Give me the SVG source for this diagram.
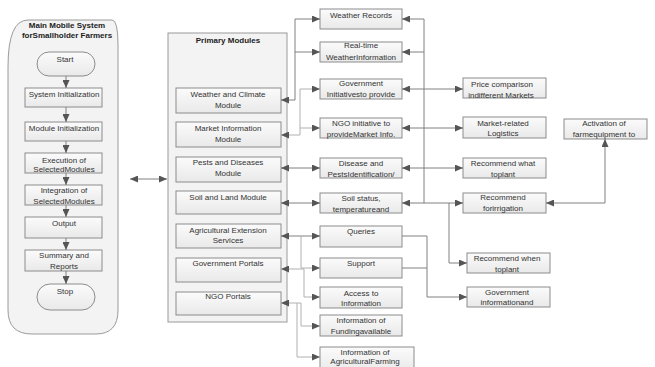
<svg xmlns="http://www.w3.org/2000/svg" width="655" height="367" viewBox="0 0 655 367">
<defs>
<linearGradient id="bg" x1="0" y1="0" x2="0" y2="1">
<stop offset="0" stop-color="#fbfbfb"/>
<stop offset="1" stop-color="#e9e9e9"/>
</linearGradient>
<marker id="ah" viewBox="0 0 8 7" refX="8" refY="3.5" markerWidth="8" markerHeight="7" markerUnits="userSpaceOnUse" orient="auto-start-reverse">
<path d="M0,0 L8,3.5 L0,7 z" fill="#555"/>
</marker>
</defs>
<style>
text{font-family:"Liberation Sans",Arial,sans-serif;font-size:8px;fill:#333;text-anchor:middle}
.t{font-weight:bold;fill:#222}
.box{fill:url(#bg);stroke:#8c8c8c;stroke-width:1}
.cont{fill:#f3f3f3;stroke:#9a9a9a;stroke-width:1}
.c{fill:none;stroke:#808080;stroke-width:1}
.l{stroke:#b0b0b0}
.b{marker-start:url(#ah);marker-end:url(#ah)}
.e{marker-end:url(#ah)}
</style>
<g id="main-system">
<path class="cont" d="M28,20 L112,20 Q118,20 118,45 L118,310 Q118,334 96,334 L32,334 Q8,334 8,310 L8,67 Q8,20 28,20 Z"/>
<text class="t" x="67" y="28">Main Mobile System</text>
<text class="t" x="67" y="38">forSmallholder Farmers</text>
</g>
<g id="start"><rect class="box" x="37" y="52" width="58" height="24" rx="12"/><text x="65" y="62">Start</text></g>
<g id="system-init"><rect class="box" x="25" y="88" width="77" height="19"/><text x="64" y="97">System Initialization</text></g>
<g id="module-init"><rect class="box" x="25" y="122" width="77" height="19"/><text x="64" y="131">Module Initialization</text></g>
<g id="execution"><rect class="box" x="25" y="153" width="77" height="20"/><text x="64" y="163">Execution of</text><text x="64" y="172">SelectedModules</text></g>
<g id="integration"><rect class="box" x="25" y="185" width="77" height="20"/><text x="64" y="193">Integration of</text><text x="64" y="204">SelectedModules</text></g>
<g id="output"><rect class="box" x="25" y="217" width="77" height="21"/><text x="64" y="226">Output</text></g>
<g id="summary"><rect class="box" x="25" y="250" width="77" height="21"/><text x="64" y="258">Summary and</text><text x="64" y="269">Reports</text></g>
<g id="stop"><rect class="box" x="37" y="284" width="58" height="26" rx="13"/><text x="65" y="294">Stop</text></g>

<g id="primary-modules">
<rect class="cont" x="168" y="33" width="119" height="289"/>
<text class="t" x="228" y="43">Primary Modules</text>
</g>
<g id="weather-module"><rect class="box" x="176" y="88" width="105" height="25"/><text x="228" y="97">Weather and Climate</text><text x="228" y="108">Module</text></g>
<g id="market-module"><rect class="box" x="176" y="122" width="105" height="25"/><text x="228" y="131">Market Information</text><text x="228" y="142">Module</text></g>
<g id="pests-module"><rect class="box" x="176" y="157" width="105" height="25"/><text x="228" y="165">Pests and Diseases</text><text x="228" y="176">Module</text></g>
<g id="soil-module"><rect class="box" x="176" y="191" width="105" height="23"/><text x="228" y="200">Soil and Land Module</text></g>
<g id="agri-module"><rect class="box" x="176" y="224" width="105" height="24"/><text x="228" y="233">Agricultural Extension</text><text x="228" y="243">Services</text></g>
<g id="gov-module"><rect class="box" x="176" y="258" width="105" height="24"/><text x="228" y="266">Government Portals</text></g>
<g id="ngo-module"><rect class="box" x="176" y="292" width="105" height="23"/><text x="228" y="299">NGO Portals</text></g>

<g id="weather-records"><rect class="box" x="320" y="9" width="82" height="20"/><text x="361" y="18">Weather Records</text></g>
<g id="realtime"><rect class="box" x="320" y="42" width="82" height="20"/><text x="361" y="48">Real-time</text><text x="361" y="60">WeatherInformation</text></g>
<g id="gov-init"><rect class="box" x="320" y="79" width="82" height="20"/><text x="361" y="86">Government</text><text x="361" y="97">Initiativesto provide</text></g>
<g id="ngo-init"><rect class="box" x="320" y="118" width="82" height="20"/><text x="361" y="126">NGO initiative to</text><text x="361" y="137">provideMarket Info.</text></g>
<g id="disease"><rect class="box" x="320" y="158" width="82" height="20"/><text x="361" y="166">Disease and</text><text x="361" y="177">PestsIdentification/</text></g>
<g id="soil-status"><rect class="box" x="320" y="193" width="82" height="20"/><text x="361" y="201">Soil status,</text><text x="361" y="212">temperatureand</text></g>
<g id="queries"><rect class="box" x="320" y="226" width="82" height="21"/><text x="361" y="234">Queries</text></g>
<g id="support"><rect class="box" x="320" y="258" width="82" height="20"/><text x="361" y="266">Support</text></g>
<g id="access"><rect class="box" x="320" y="287" width="82" height="21"/><text x="361" y="296">Access to</text><text x="361" y="306">Information</text></g>
<g id="funding"><rect class="box" x="320" y="315" width="82" height="21"/><text x="361" y="323">Information of</text><text x="361" y="334">Fundingavailable</text></g>
<g id="farming"><rect class="box" x="320" y="347" width="94" height="25"/><text x="365" y="355">Information of</text><text x="365" y="364">AgriculturalFarming</text></g>

<g id="price"><rect class="box" x="463" y="78" width="83" height="20"/><text x="502" y="87">Price comparison</text><text x="501" y="98">indifferent Markets</text></g>
<g id="logistics"><rect class="box" x="463" y="117" width="83" height="21"/><text x="503" y="126">Market-related</text><text x="503" y="136">Logistics</text></g>
<g id="recommend-what"><rect class="box" x="463" y="158" width="83" height="20"/><text x="503" y="166">Recommend what</text><text x="503" y="177">toplant</text></g>
<g id="recommend-irrigation"><rect class="box" x="463" y="193" width="83" height="20"/><text x="503" y="200">Recommend</text><text x="503" y="211">forirrigation</text></g>
<g id="activation"><rect class="box" x="564" y="119" width="83" height="20"/><text x="604" y="126">Activation of</text><text x="604" y="137">farmequipment to</text></g>
<g id="recommend-when"><rect class="box" x="467" y="253" width="83" height="20"/><text x="507" y="261">Recommend when</text><text x="507" y="272">toplant</text></g>
<g id="gov-info"><rect class="box" x="467" y="287" width="83" height="20"/><text x="507" y="295">Government</text><text x="507" y="305">informationand</text></g>

<g id="connectors">
<path class="c e" d="M66,76 V88"/>
<path class="c e" d="M66,107 V122"/>
<path class="c e" d="M66,141 V153"/>
<path class="c e" d="M66,173 V185"/>
<path class="c e" d="M66,205 V217"/>
<path class="c e" d="M66,238 V250"/>
<path class="c e" d="M66,271 V284"/>
<path class="c b" d="M130,179 H167"/>

<path class="c b" d="M281,100 H295 V19 H320"/>
<path class="c e" d="M295,52 H320"/>
<path class="c l b" d="M281,135 H300 V89 H320"/>
<path class="c l e" d="M300,128 H320"/>
<path class="c b" d="M281,168 H320"/>
<path class="c b" d="M281,203 H320"/>
<path class="c b" d="M281,236 H320"/>
<path class="c l e" d="M301,236 V268 H320"/>
<path class="c l b" d="M281,269 H304 V297 H320"/>
<path class="c l b" d="M281,303 H301 V326 H320"/>
<path class="c l e" d="M297,303 V357 H320"/>

<path class="c b" d="M402,89 H463"/>
<path class="c b" d="M402,128 H463"/>
<path class="c b" d="M402,168 H463"/>
<path class="c b" d="M402,203 H463"/>
<path class="c e" d="M424,203 V19 H402"/>
<path class="c e" d="M424,52 H402"/>
<path class="c e" d="M449,203 V263 H467"/>
<path class="c e" d="M402,236 H427 V297 H467"/>
<path class="c" d="M402,268 H427"/>
<path class="c b" d="M546,203 H605 V139"/>
</g>
</svg>
